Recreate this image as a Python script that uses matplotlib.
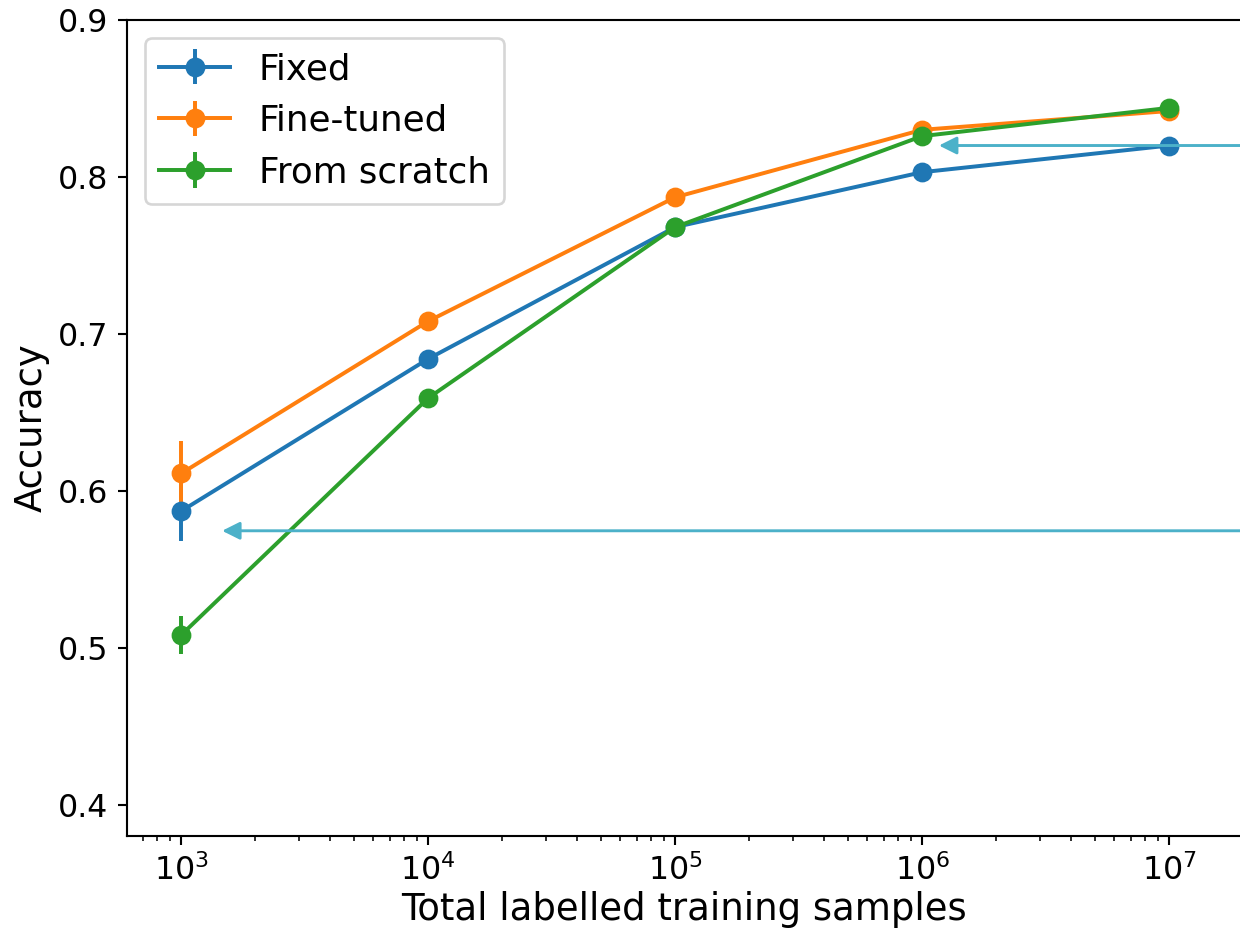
import matplotlib.pyplot as plt

# data
samples = [1e3, 1e4, 1e5, 1e6, 1e7]

fixed = [0.587, 0.684, 0.768, 0.803, 0.820]
fixed_err = [0.019, 0.006, 0.002, 0.002, 0.002]

finetuned = [0.611, 0.708, 0.787, 0.830, 0.842]
finetuned_err = [0.021, 0.002, 0.002, 0.002, 0.002]

scratch = [0.508, 0.659, 0.768, 0.826, 0.844]
scratch_err = [0.012, 0.005, 0.002, 0.002, 0.002]

# reference levels marked with arrows
arrow_levels = [0.5745, 0.820]
arrow_heads = [1466, 1.17e6]

fig = plt.figure(figsize=(1240 / 190, 929 / 190), dpi=190)
ax = fig.add_axes([0.1024, 0.1001, 1.0, 0.8784])

ax.errorbar(samples, fixed, yerr=fixed_err, fmt='-o', color='tab:blue', label='Fixed', markersize=6.5)
ax.errorbar(samples, finetuned, yerr=finetuned_err, fmt='-o', color='tab:orange', label='Fine-tuned', markersize=6.5)
ax.errorbar(samples, scratch, yerr=scratch_err, fmt='-o', color='tab:green', label='From scratch', markersize=6.5)

for level, head in zip(arrow_levels, arrow_heads):
    ax.annotate('', xy=(head, level), xytext=(1e9, level),
                arrowprops=dict(arrowstyle='-|>', color='#4cb1c9', lw=1.1,
                                mutation_scale=14, shrinkA=0, shrinkB=0))

ax.set_xscale('log')
ax.set_xlim(10 ** 2.781, 10 ** 7.801)
ax.set_ylim(0.38, 0.9)
ax.set_yticks([0.4, 0.5, 0.6, 0.7, 0.8, 0.9])
ax.tick_params(labelsize=12)
ax.set_xlabel('Total labelled training samples', fontsize=14)
ax.xaxis.set_label_coords(0.449, -0.068)
ax.set_ylabel('Accuracy', fontsize=14)
ax.yaxis.set_label_coords(-0.0625, 0.5)
ax.legend(loc='upper left', fontsize=13.5)

plt.savefig('out.png', dpi=190)
